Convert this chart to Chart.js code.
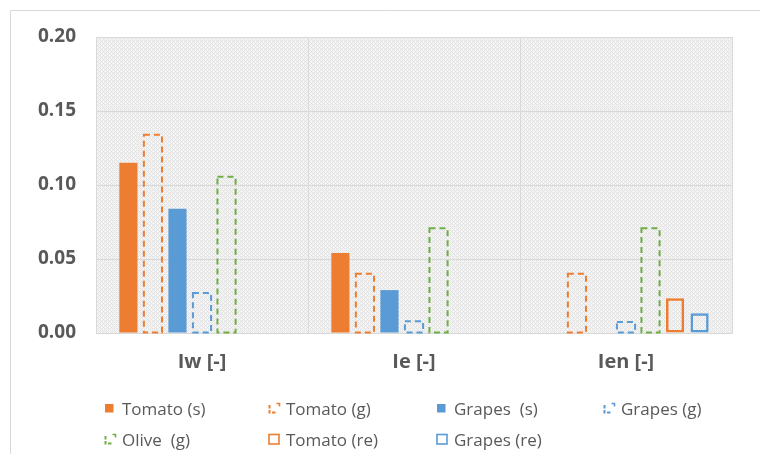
<!DOCTYPE html>
<html>
<head>
<meta charset="utf-8">
<script src="https://cdn.jsdelivr.net/npm/chart.js@4.4.1/dist/chart.umd.min.js"></script>
<style>
  html, body { margin: 0; padding: 0; background: #fff; }
  #wrap { position: relative; width: 760px; height: 454px; font-family: 'Open Sans', sans-serif; }
  #chart { position: absolute; left: 0; top: 0; }
  .legend-item { position: absolute; display: flex; align-items: center; height: 22px; font-size: 17px; color: #595959; white-space: pre; }
  .legend-item svg { margin-right: 5px; }
</style>
</head>
<body>
<div id="wrap">
  <canvas id="chart" width="760" height="454"></canvas>
  <div id="legend"></div>
</div>
<script>
const categories = ['Iw [-]', 'Ie [-]', 'Ien [-]'];
const yTicks = [0, 0.05, 0.10, 0.15, 0.20];

const tomatoS = [0.115, 0.054, 0];
const tomatoG = [0.134, 0.040, 0.040];
const grapesS = [0.084, 0.029, 0];
const grapesG = [0.027, 0.008, 0.0075];
const oliveG = [0.1055, 0.0707, 0.0707];
const tomatoRe = [0, 0, 0.0235];
const grapesRe = [0, 0, 0.0133];

const ORANGE = '#ED7D31';
const BLUE = '#5B9BD5';
const GREEN = '#70AD47';
const TEXT = '#595959';
const GRID = '#d9d9d9';

function qs(id) {
	return document.getElementById(id);
}

// light checkered fill used behind the plot area
function makePattern() {
	const c = document.createElement('canvas');
	c.width = 4;
	c.height = 4;
	const g = c.getContext('2d');
	g.fillStyle = '#f4f4f4';
	g.fillRect(0, 0, 4, 4);
	g.fillStyle = '#e2e2e2';
	[[0, 0], [2, 0], [1, 1], [0, 2], [2, 2], [3, 3]].forEach(([x, y]) => g.fillRect(x, y, 1, 1));
	return g.createPattern(c, 'repeat');
}

const backdrop = {
	id: 'backdrop',
	beforeDraw(chart) {
		const { ctx, chartArea: a } = chart;
		ctx.save();
		ctx.fillStyle = '#fff';
		ctx.fillRect(0, 0, chart.width, chart.height);
		ctx.strokeStyle = GRID;
		ctx.lineWidth = 1;
		ctx.beginPath();
		ctx.moveTo(10.5, chart.height);
		ctx.lineTo(10.5, 10.5);
		ctx.lineTo(chart.width, 10.5);
		ctx.stroke();
		ctx.fillStyle = makePattern();
		ctx.fillRect(a.left, a.top, a.right - a.left, a.bottom - a.top);
		ctx.restore();
	},
};

// bar borders in Chart.js are filled, so dashed outlines are stroked here
const dashedBars = {
	id: 'dashedBars',
	afterDatasetsDraw(chart) {
		const ctx = chart.ctx;
		chart.data.datasets.forEach((ds, i) => {
			if (!ds.dashed) return;
			const meta = chart.getDatasetMeta(i);
			ctx.save();
			ctx.strokeStyle = ds.dashColor;
			ctx.lineWidth = 2;
			ctx.setLineDash([6, 4]);
			meta.data.forEach((bar) => {
				const { x, y, base, width } = bar.getProps(['x', 'y', 'base', 'width'], true);
				ctx.strokeRect(x - width / 2, y, width, base - y);
			});
			ctx.restore();
		});
	},
};

const solid = (label, data, color) => ({
	label, data, backgroundColor: color, borderWidth: 0,
});
const dashed = (label, data, color) => ({
	label, data, backgroundColor: 'rgba(0,0,0,0)', borderWidth: 0, dashed: true, dashColor: color,
});
const outlined = (label, data, color) => ({
	label, data, backgroundColor: 'rgba(0,0,0,0)', borderColor: color, borderWidth: 2.5, borderSkipped: false,
});

const datasets = [
	solid('Tomato (s)', tomatoS, ORANGE),
	dashed('Tomato (g)', tomatoG, ORANGE),
	solid('Grapes  (s)', grapesS, BLUE),
	dashed('Grapes (g)', grapesG, BLUE),
	dashed('Olive  (g)', oliveG, GREEN),
	outlined('Tomato (re)', tomatoRe, ORANGE),
	outlined('Grapes (re)', grapesRe, BLUE),
];

new Chart(qs('chart'), {
	type: 'bar',
	data: { labels: categories, datasets },
	options: {
		responsive: false,
		animation: false,
		devicePixelRatio: 1,
		categoryPercentage: 0.81,
		barPercentage: 0.74,
		layout: { padding: { left: 0, top: 37, right: 28, bottom: 0 } },
		plugins: { legend: { display: false }, tooltip: { enabled: false } },
		scales: {
			x: {
				grid: { color: GRID, drawTicks: false, offset: true },
				border: { color: GRID },
				ticks: { color: TEXT, padding: 17, font: { family: 'Open Sans', size: 20, weight: 'bold' } },
				afterFit: (s) => { s.height = 121; },
			},
			y: {
				min: 0,
				max: 0.2,
				grid: { color: GRID, drawTicks: false },
				border: { display: false },
				afterBuildTicks: (s) => { s.ticks = yTicks.map((v) => ({ value: v })); },
				ticks: {
					color: TEXT,
					padding: 20,
					font: { family: 'Open Sans', size: 19, weight: 'bold' },
					callback: (v) => Number(v).toFixed(2),
				},
				afterFit: (s) => { s.width = 96; },
			},
		},
	},
	plugins: [backdrop, dashedBars],
});

// legend laid out on the same grid as the original
const legendCols = [104, 268, 436, 603];
const legendRows = [397, 428];

function icon(ds) {
	const NS = 'http://www.w3.org/2000/svg';
	const svg = document.createElementNS(NS, 'svg');
	svg.setAttribute('width', '13');
	svg.setAttribute('height', '12');
	let inner;
	if (ds.dashed) {
		inner = `<path d="M1.5 3 V10.5 H9" fill="none" stroke="${ds.dashColor}" stroke-width="2" stroke-dasharray="3.5 1.5"/>`
			+ `<path d="M8.5 1.5 H11.5 V4.5" fill="none" stroke="${ds.dashColor}" stroke-width="1.6"/>`;
	} else if (ds.borderWidth) {
		inner = `<rect x="1" y="1.5" width="10" height="9.5" fill="none" stroke="${ds.borderColor}" stroke-width="1.6"/>`;
	} else {
		inner = `<rect x="1" y="2" width="8.5" height="8.5" fill="${ds.backgroundColor}"/>`;
	}
	svg.innerHTML = inner;
	return svg;
}

const legend = qs('legend');
datasets.forEach((ds, i) => {
	const el = document.createElement('div');
	el.className = 'legend-item';
	el.style.left = `${legendCols[i % 4]}px`;
	el.style.top = `${legendRows[Math.floor(i / 4)]}px`;
	el.appendChild(icon(ds));
	el.appendChild(document.createTextNode(ds.label));
	legend.appendChild(el);
});
</script>
</body>
</html>
